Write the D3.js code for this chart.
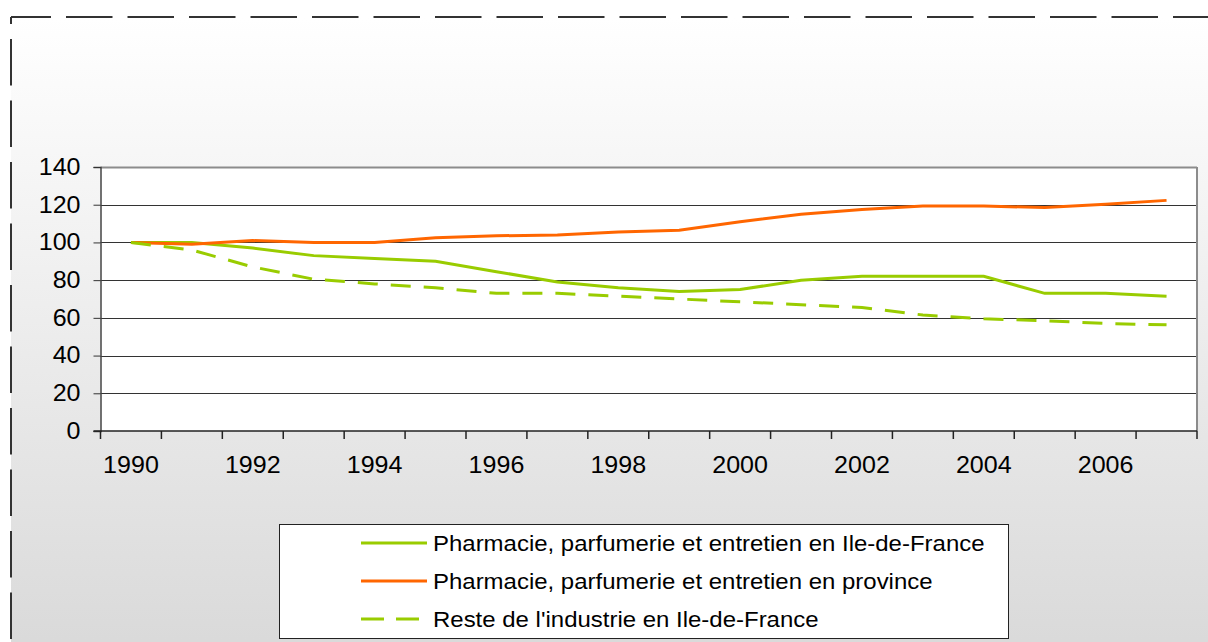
<!DOCTYPE html>
<html>
<head>
<meta charset="utf-8">
<script src="https://cdn.jsdelivr.net/npm/d3@7"></script>
<style>
  html, body { margin: 0; padding: 0; background: #fff; }
  svg { display: block; font-family: "Liberation Sans", Arial, sans-serif; }
</style>
</head>
<body>
<svg width="1208" height="642"></svg>
<script>
// Years on the category axis
const years = [1990, 1991, 1992, 1993, 1994, 1995, 1996, 1997, 1998,
               1999, 2000, 2001, 2002, 2003, 2004, 2005, 2006, 2007];

// Index values (base 100 in 1990)
const pharmaIdf      = [100, 100, 97, 93, 91.5, 90, 84.5, 79, 76, 74, 75, 80, 82, 82, 82, 73, 73, 71.5];
const pharmaProvince = [100, 99, 101, 100, 100, 102.5, 103.5, 104, 105.5, 106.5, 111, 115, 117.5, 119.3, 119.3, 118.5, 120.2, 122.3];
const resteIdf       = [100, 96, 87, 80.5, 78, 76, 73, 73, 71.5, 70, 68.5, 67, 65.5, 61.5, 59.5, 58.5, 57, 56.3];

const yTicks = [0, 20, 40, 60, 80, 100, 120, 140];

const seriesNames = [
  "Pharmacie, parfumerie et entretien en Ile-de-France",
  "Pharmacie, parfumerie et entretien en province",
  "Reste de l'industrie en Ile-de-France"
];

const series = [
  { name: seriesNames[0], values: pharmaIdf,      color: "#99cc00", dash: null },
  { name: seriesNames[1], values: pharmaProvince, color: "#ff6600", dash: null },
  { name: seriesNames[2], values: resteIdf,       color: "#99cc00", dash: "20,13" }
];

const stretch = 1.09;   // the original text is drawn a bit wide

const svg = d3.select("svg");

// plot area box
const plot = { left: 100.5, top: 167, right: 1197, bottom: 431 };

// background gradient for the chart area
const defs = svg.append("defs");
const grad = defs.append("linearGradient")
  .attr("id", "bg").attr("x1", 0).attr("y1", 0).attr("x2", 0).attr("y2", 1);
grad.append("stop").attr("offset", "0%").attr("stop-color", "#ffffff");
grad.append("stop").attr("offset", "100%").attr("stop-color", "#d9d9d9");

svg.append("rect")
  .attr("x", 11).attr("y", 17).attr("width", 1250).attr("height", 640)
  .attr("fill", "url(#bg)");

// dashed outer border (only top and left are in view)
svg.append("line")
  .attr("x1", 11).attr("y1", 17).attr("x2", 1208).attr("y2", 17)
  .attr("stroke", "#333").attr("stroke-width", 2)
  .attr("stroke-dasharray", "40 15 " + d3.range(30).map(() => "46.5 15").join(" "));
svg.append("line")
  .attr("x1", 11).attr("y1", 17).attr("x2", 11).attr("y2", 642)
  .attr("stroke", "#333").attr("stroke-width", 2)
  .attr("stroke-dasharray", "7 15 " + d3.range(15).map(() => "46.5 15").join(" "));

// scales
const x = d3.scaleBand().domain(years).range([plot.left, plot.right]).padding(0);
const y = d3.scaleLinear().domain([0, 140]).range([plot.bottom, plot.top]);
const cx = d => x(d) + x.bandwidth() / 2;

// plot area
svg.append("rect")
  .attr("x", plot.left).attr("y", plot.top)
  .attr("width", plot.right - plot.left).attr("height", plot.bottom - plot.top)
  .attr("fill", "#fff");

// gridlines
svg.append("g")
  .selectAll("line")
  .data(yTicks.filter(d => d > 0))
  .join("line")
  .attr("x1", plot.left).attr("x2", plot.right)
  .attr("y1", d => Math.round(y(d)) + 0.5).attr("y2", d => Math.round(y(d)) + 0.5)
  .attr("stroke", d => d === 140 ? "#8c8c8c" : "#333")
  .attr("stroke-width", d => d === 140 ? 2 : 1);

// right border of plot area
svg.append("line")
  .attr("x1", plot.right).attr("x2", plot.right)
  .attr("y1", plot.top).attr("y2", plot.bottom)
  .attr("stroke", "#8c8c8c").attr("stroke-width", 2);

// y axis
const yAxis = svg.append("g")
  .attr("transform", `translate(${plot.left},0)`)
  .call(d3.axisLeft(y).tickValues(yTicks).tickSize(7).tickPadding(13));
yAxis.select(".domain").attr("stroke", "#444").attr("stroke-width", 1.5);
yAxis.selectAll(".tick line").attr("stroke", "#333");
yAxis.selectAll(".tick text")
  .attr("font-size", 23).attr("fill", "#000")
  .attr("font-family", "'Liberation Sans', Arial, sans-serif")
  .attr("x", -20 / stretch)
  .attr("transform", `scale(${stretch},1)`);

// x axis: labels every two years, ticks between categories
const xAxis = svg.append("g")
  .attr("transform", `translate(0,${plot.bottom})`)
  .call(d3.axisBottom(x)
    .tickValues(years.filter(d => d % 2 === 0))
    .tickSize(0).tickPadding(26));
xAxis.select(".domain").remove();
xAxis.selectAll(".tick text")
  .attr("font-size", 23).attr("fill", "#000")
  .attr("font-family", "'Liberation Sans', Arial, sans-serif")
  .attr("transform", `scale(${stretch},1)`);

const bounds = years.map(d => x(d)).concat([x(years[years.length - 1]) + x.bandwidth()]);
svg.append("g")
  .selectAll("line")
  .data(bounds)
  .join("line")
  .attr("x1", d => d).attr("x2", d => d)
  .attr("y1", plot.bottom).attr("y2", plot.bottom + 8)
  .attr("stroke", "#222").attr("stroke-width", 1.5);
svg.append("line")
  .attr("x1", plot.left - 7).attr("x2", plot.right)
  .attr("y1", plot.bottom).attr("y2", plot.bottom)
  .attr("stroke", "#222").attr("stroke-width", 1.5);

// lines
const line = d3.line()
  .x((d, i) => cx(years[i]))
  .y(d => y(d));

svg.append("g")
  .selectAll("path")
  .data(series)
  .join("path")
  .attr("d", d => line(d.values))
  .attr("fill", "none")
  .attr("stroke", d => d.color)
  .attr("stroke-width", 3)
  .attr("stroke-dasharray", d => d.dash);

// legend
const legend = svg.append("g");
legend.append("rect")
  .attr("x", 279.5).attr("y", 524.5).attr("width", 729).attr("height", 114)
  .attr("fill", "#fff").attr("stroke", "#222").attr("stroke-width", 1);

const rows = legend.selectAll("g.row")
  .data(series)
  .join("g")
  .attr("class", "row")
  .attr("transform", (d, i) => `translate(361,${543 + i * 38})`);
rows.append("line")
  .attr("x1", 0).attr("x2", 66).attr("y1", 0).attr("y2", 0)
  .attr("stroke", d => d.color).attr("stroke-width", 3)
  .attr("stroke-dasharray", d => d.dash ? "23,12" : null);
rows.append("text")
  .attr("x", 72 / stretch).attr("y", 8)
  .attr("transform", `scale(${stretch},1)`)
  .attr("font-size", 22).attr("fill", "#000")
  .text(d => d.name);
</script>
</body>
</html>
